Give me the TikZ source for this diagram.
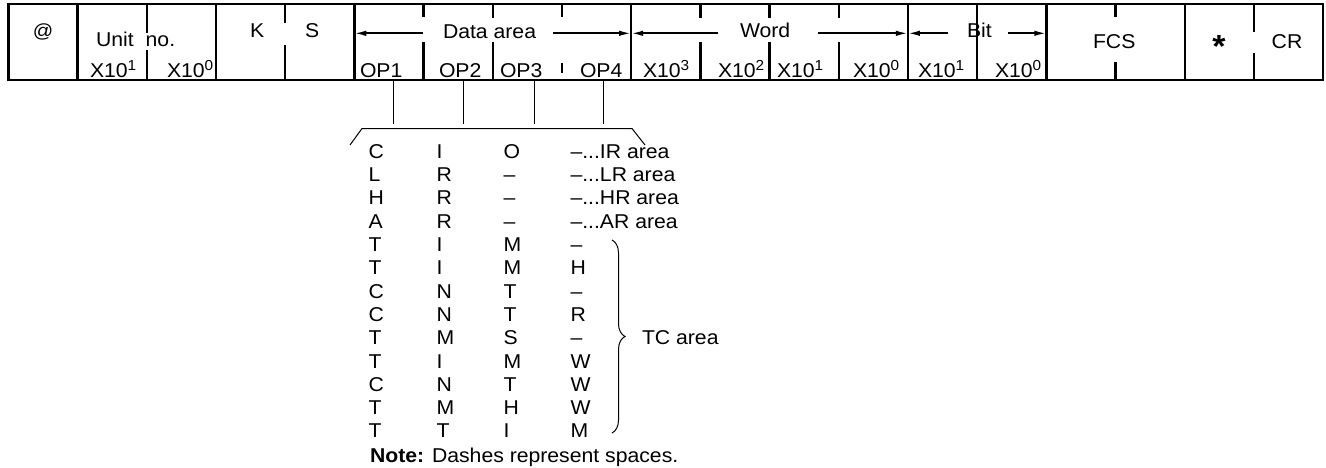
\documentclass[tikz,border=0pt]{standalone}
\usepackage{fontspec}
\setmainfont{Liberation Sans}[FakeStretch=1.06]
\usetikzlibrary{arrows.meta,decorations.pathreplacing}
\newcommand{\sups}[1]{\raisebox{7.5pt}{\fontsize{14.5}{14.5}\selectfont #1}}
\begin{document}
\begin{tikzpicture}[x=1pt,y=-1pt,
  every node/.style={inner sep=0pt,outer sep=0pt,font=\fontsize{20}{24}\selectfont},
  heavy/.style={line width=2.4pt},
  fine/.style={line width=1pt},
  arr/.style={line width=1.8pt,-{Latex[length=12pt,width=5.5pt]}},
  lb/.style={anchor=base west}]
\useasboundingbox (0,0) rectangle (1326,467);
\foreach \i in {0,...,19}{
  \coordinate (t\i) at ({8.3+69.2*\i},3.7);
  \coordinate (b\i) at ({8.3+69.2*\i},80);
}
\draw[heavy] (t0) rectangle (b19);
\foreach \i in {1,3,5,9,13,14,15,17} \draw[heavy] (t\i) -- (b\i);
\foreach \i/\u/\l in {2/33/50, 4/23/45, 6/17/42, 7/18/42, 10/18/42, 11/18/42, 12/18/42, 16/17/62, 18/32/53}{
  \draw[heavy] (t\i) -- (t\i |- 0,\u);
  \draw[heavy] (t\i |- 0,\l) -- (b\i);
}
\draw[heavy] (t8) -- (t8 |- 0,17);
\draw[heavy] (t8 |- 0,63) -- (t8 |- 0,73);

% arrows
\coordinate (dl) at (423,33.3); \draw[arr] (dl) -- (t5 |- dl);
\coordinate (dr) at (553,33.3); \draw[arr] (dr) -- (t9 |- dr);
\coordinate (wl) at (718,33.3); \draw[arr] (wl) -- (t9 |- wl);
\coordinate (wr) at (818,33.3); \draw[arr] (wr) -- (t13 |- wr);
\coordinate (bl) at (948,33.3); \draw[arr] (bl) -- (t13 |- bl);
\coordinate (br) at (1008,33.3); \draw[arr] (br) -- (t15 |- br);

% top-row labels
\node[font=\fontsize{19}{20}\selectfont] (atsign) at (43,31.5) {@};
\node[lb] (unit) at (96,46.7) {Unit\hspace{12pt}no.};
\node[lb] (u1) at (90,77.7) {X10\sups{1}};
\node[lb] (u0) at (167,77.7) {X10\sups{0}};
\node[lb] (kk) at (250,37.3) {K};
\node[lb] (ss) at (305,37.5) {S};
\node[lb] (data) at (443,38.3) {Data area};
\node[lb] (op1) at (360,77.7) {OP1};
\node[lb] (op2) at (439,77.7) {OP2};
\node[lb] (op3) at (500,77.7) {OP3};
\node[lb] (op4) at (580,77.7) {OP4};
\node[lb] (word) at (740,37.3) {Word};
\node[lb] (w3) at (643,77.7) {X10\sups{3}};
\node[lb] (w2) at (718,77.7) {X10\sups{2}};
\node[lb] (w1) at (777,77.7) {X10\sups{1}};
\node[lb] (w0) at (853,77.7) {X10\sups{0}};
\node[lb] (bit) at (967,37.3) {Bit};
\node[lb] (b1x) at (918,77.7) {X10\sups{1}};
\node[lb] (b0x) at (995,77.7) {X10\sups{0}};
\node[lb] (fcs) at (1093,48) {FCS};
\node[anchor=base,font=\bfseries\fontsize{32}{32}\selectfont] (ast) at (1219,57) {*};
\node[anchor=base] (cr) at (1287,48) {CR};

% connectors to bracket
\foreach \x [count=\n] in {393,463,534,603}{
  \coordinate (lt\n) at (\x,80);
  \coordinate (lb\n) at (\x,124);
  \draw[fine] (lt\n) -- (lb\n);
}
\coordinate (k1) at (350,145);
\coordinate (k2) at (362,128.5);
\coordinate (k3) at (632,128.5);
\coordinate (k4) at (645,145);
\draw[fine] (k1) -- (k2) -- (k3) -- (k4);

% code table
\foreach \a/\b/\c/\d [count=\k from 0] in {C/I/O/{–...IR area}, L/R/–/{–...LR area}, H/R/–/{–...HR area}, A/R/–/{–...AR area}, T/I/M/–, T/I/M/H, C/N/T/–, C/N/T/R, T/M/S/–, T/I/M/W, C/N/T/W, T/M/H/W, T/T/I/M}{
  \node[lb] (ca\k) at (368.5,{158.3+23.3*\k}) {\a};
  \node[lb] (cb\k) at (436.5,{158.3+23.3*\k}) {\b};
  \node[lb] (cc\k) at (503.5,{158.3+23.3*\k}) {\c};
  \node[lb] (cd\k) at (570.5,{158.3+23.3*\k}) {\d};
}
\coordinate (bt) at (612,240);
\coordinate (bb) at (612,433);
\draw[fine,decorate,decoration={brace,amplitude=13pt}] (bt) -- (bb);
\node[lb] (tc) at (642,344.7) {TC area};
\node[lb] (note) at (370,462) {\textbf{Note:} Dashes represent spaces.};
\end{tikzpicture}
\end{document}
